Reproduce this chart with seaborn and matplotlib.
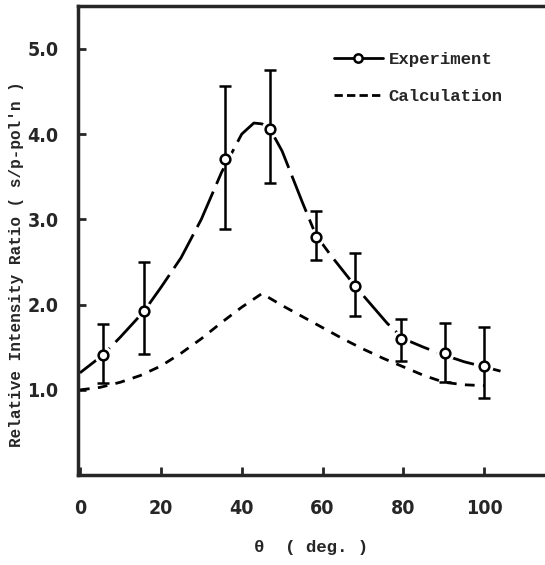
import matplotlib
matplotlib.use("Agg")
import matplotlib.pyplot as plt
import numpy as np
import pandas as pd
import seaborn as sns
from matplotlib.lines import Line2D

# ── data ──
theta_pts = [5.7, 15.8, 35.8, 47.1, 58.3, 68.1, 79.3, 90.2, 100.0]
ratio_pts = [1.41, 1.92, 3.71, 4.06, 2.79, 2.22, 1.60, 1.43, 1.28]
err_hi = [1.77, 2.50, 4.56, 4.75, 3.10, 2.61, 1.83, 1.78, 1.74]
err_lo = [1.08, 1.42, 2.89, 3.43, 2.52, 1.87, 1.34, 1.09, 0.90]

exp_theta = [0, 5.7, 10, 15.8, 20, 25, 30, 35, 40, 43, 45, 47, 50, 55, 58.3,
             62, 65, 68, 72, 76, 80, 85, 90, 95, 100, 104]
exp_ratio = [1.20, 1.41, 1.62, 1.92, 2.20, 2.55, 3.00, 3.55, 4.00, 4.13, 4.12,
             4.06, 3.80, 3.20, 2.82, 2.58, 2.40, 2.22, 2.00, 1.78, 1.60, 1.50,
             1.41, 1.33, 1.27, 1.22]

calc_theta = [0, 5, 10, 15, 20, 25, 30, 35, 40, 45, 50, 55, 60, 65, 70, 75,
              80, 85, 90, 95, 100]
calc_ratio = [1.00, 1.03, 1.09, 1.17, 1.28, 1.43, 1.60, 1.79, 1.97, 2.13, 1.99,
              1.86, 1.73, 1.60, 1.48, 1.37, 1.27, 1.17, 1.09, 1.06, 1.05]

xticks = [0, 20, 40, 60, 80, 100]
yticks = [1.0, 2.0, 3.0, 4.0, 5.0]

sns.set_style("ticks")
plt.rcParams["font.family"] = ["Liberation Mono", "DejaVu Sans Mono"]
tick_kw = dict(fontsize=14, family="DejaVu Sans", fontweight="bold",
               fontstretch="condensed")

fig = plt.figure(figsize=(5.45, 5.65), dpi=100)
ax = fig.add_axes([0.143, 0.159, 0.857, 0.830])

calc_df = pd.DataFrame({"theta": calc_theta, "ratio": calc_ratio})
exp_df = pd.DataFrame({"theta": exp_theta, "ratio": exp_ratio})

sns.lineplot(data=calc_df, x="theta", y="ratio", ax=ax, color="black",
             lw=2.0, linestyle=(0, (3.5, 3)), sort=False, zorder=2)
sns.lineplot(data=exp_df, x="theta", y="ratio", ax=ax, color="black",
             lw=2.0, linestyle=(0, (14, 3)), sort=False, zorder=2)

# white halo so the curve breaks around each circle
ax.plot(theta_pts, ratio_pts, "o", ms=12, color="white", zorder=3)

yerr = [np.array(ratio_pts) - np.array(err_lo), np.array(err_hi) - np.array(ratio_pts)]
ax.errorbar(theta_pts, ratio_pts, yerr=yerr, fmt="o", color="black",
            mfc="white", mec="black", ms=7, mew=1.8, elinewidth=1.8,
            capsize=4, capthick=1.8, zorder=5)

ax.set_xlim(-0.5, 115)
ax.set_ylim(0, 5.5)
ax.set_xticks(xticks)
ax.set_yticks(yticks)
ax.set_xticklabels([str(t) for t in xticks], **tick_kw)
ax.set_yticklabels([f"{t:.1f}" for t in yticks], **tick_kw)
ax.tick_params(direction="in", length=6, width=2)
ax.tick_params(axis="x", pad=17)
ax.tick_params(axis="y", pad=14)

for s in ["left", "top", "bottom"]:
    ax.spines[s].set_linewidth(2.5)
ax.spines["right"].set_visible(False)

ax.set_xlabel("θ  ( deg. )", fontsize=12.5, fontweight="bold", labelpad=16)
ax.set_ylabel("Relative Intensity Ratio ( s/p-pol'n )", fontsize=11.5,
              fontweight="bold", labelpad=8)
ax.yaxis.set_label_coords(-0.115, 0.45)

handles = [
    Line2D([], [], color="black", lw=2, marker="o", mfc="white", mec="black",
           ms=6, mew=1.8),
    Line2D([], [], color="black", lw=2, linestyle=(0, (3, 1.5))),
]
ax.legend(handles, ["Experiment", "Calculation"], loc="upper left",
          bbox_to_anchor=(0.515, 0.935), frameon=False,
          handlelength=2.8, handletextpad=0.35, labelspacing=1.25,
          prop={"weight": "bold", "size": 12.5})

fig.savefig("out.png", dpi=100)
